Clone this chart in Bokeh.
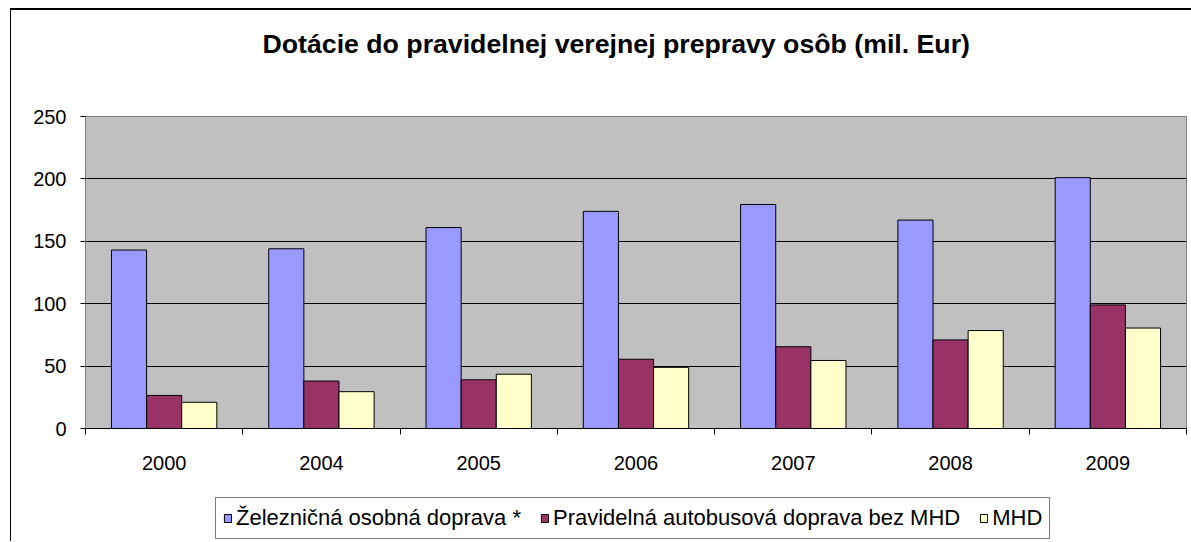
from bokeh.plotting import figure
from bokeh.layouts import column
from bokeh.models import (Range1d, FixedTicker, Legend, LegendItem, Title,
                          ColumnDataSource)
from bokeh.transform import dodge
from bokeh.embed import file_html
from bokeh.resources import INLINE

# ---- data ----
years = ["2000", "2004", "2005", "2006", "2007", "2008", "2009"]
zeleznicna = [143, 144, 161, 174, 179.5, 167, 201]
autobusova = [26.5, 38, 39, 55.5, 65.5, 71, 99]
mhd = [21, 29.5, 43.5, 49, 54.5, 78.5, 80.5]
series_names = ["Železničná osobná doprava *",
                "Pravidelná autobusová doprava bez MHD",
                "MHD"]
y_ticks = [0, 50, 100, 150, 200, 250]
title_text = "Dotácie do pravidelnej verejnej prepravy osôb (mil. Eur)"

colors = ["#9999FF", "#993366", "#FFFFCC"]
FONT = "Liberation Sans"

pos = [i + 0.5 for i in range(len(years))]
src = ColumnDataSource(dict(x=pos, z=zeleznicna, a=autobusova, m=mhd))

w = 0.2233
cols = ["z", "a", "m"]
offs = [-w, 0, w]


def add_bars(fig):
    out = []
    for k in range(3):
        out.append(fig.vbar(x=dodge("x", offs[k], range=fig.x_range), top=cols[k],
                            width=w, source=src, fill_color=colors[k],
                            line_color="black", line_width=1))
    return out


# ---- main chart ----
p = figure(width=1180, height=480,
           x_range=Range1d(0, len(years)), y_range=Range1d(y_ticks[0], y_ticks[-1]),
           output_backend="svg", toolbar_location=None,
           min_border_left=74, min_border_right=5,
           min_border_top=106, min_border_bottom=62,
           background_fill_color="#C0C0C0", border_fill_color="white")
p.outline_line_color = "#808080"
p.outline_line_width = 1
add_bars(p)

# x axis
p.xaxis.ticker = FixedTicker(ticks=pos, minor_ticks=list(range(len(years) + 1)))
p.xaxis.major_label_overrides = {pos[i]: years[i] for i in range(len(years))}
p.xaxis.major_tick_out = 0
p.xaxis.major_tick_in = 0
p.xaxis.minor_tick_out = 6
p.xaxis.minor_tick_in = 0
p.xaxis.minor_tick_line_color = "black"
p.xaxis.axis_line_color = "black"
p.xaxis.major_label_standoff = 21
p.xaxis.major_label_text_font = FONT
p.xaxis.major_label_text_font_size = "20px"
p.xaxis.major_label_text_color = "black"
p.xgrid.visible = False

# y axis
p.yaxis.ticker = FixedTicker(ticks=y_ticks, minor_ticks=[])
p.yaxis.major_tick_out = 5
p.yaxis.major_tick_in = 0
p.yaxis.major_tick_line_color = "black"
p.yaxis.axis_line_color = "#808080"
p.yaxis.major_label_standoff = 14
p.yaxis.major_label_text_font = FONT
p.yaxis.major_label_text_font_size = "20px"
p.yaxis.major_label_text_color = "black"
p.ygrid.ticker = FixedTicker(ticks=y_ticks[1:-1])
p.ygrid.grid_line_color = "black"
p.ygrid.grid_line_width = 1

# title (spacer title nearest the frame, real title above it)
p.add_layout(Title(text=" ", text_font_size="36px"), "above")
p.title.text = title_text
p.title.align = "left"
p.title.offset = 177
p.title.text_font = FONT
p.title.text_font_style = "bold"
p.title.text_font_size = "26.7px"
p.title.text_color = "black"

# ---- legend strip (same series renderers, kept out of view) ----
pl = figure(width=1180, height=51,
            x_range=Range1d(0, len(years)), y_range=Range1d(1000, 1001),
            output_backend="svg", toolbar_location=None,
            min_border_left=0, min_border_right=0,
            min_border_top=0, min_border_bottom=0,
            background_fill_color="white", border_fill_color="white")
pl.outline_line_color = None
pl.axis.visible = False
pl.grid.visible = False
lrs = add_bars(pl)
legend = Legend(items=[LegendItem(label=series_names[k], renderers=[lrs[k]]) for k in range(3)],
                orientation="horizontal", location=(130, 2),
                glyph_width=9, glyph_height=10, label_standoff=4, spacing=19,
                padding=7, margin=0,
                label_text_font=FONT, label_text_font_size="22px",
                label_text_color="black",
                border_line_color="black", border_line_width=1,
                background_fill_color="white", background_fill_alpha=1)
pl.add_layout(legend)

layout = column(p, pl, spacing=0)
layout.styles = {"margin-left": "10px", "margin-top": "8px",
                 "border-left": "1px solid black", "border-top": "2px solid black"}

open("out.html", "w").write(file_html(layout, INLINE, title="chart"))
